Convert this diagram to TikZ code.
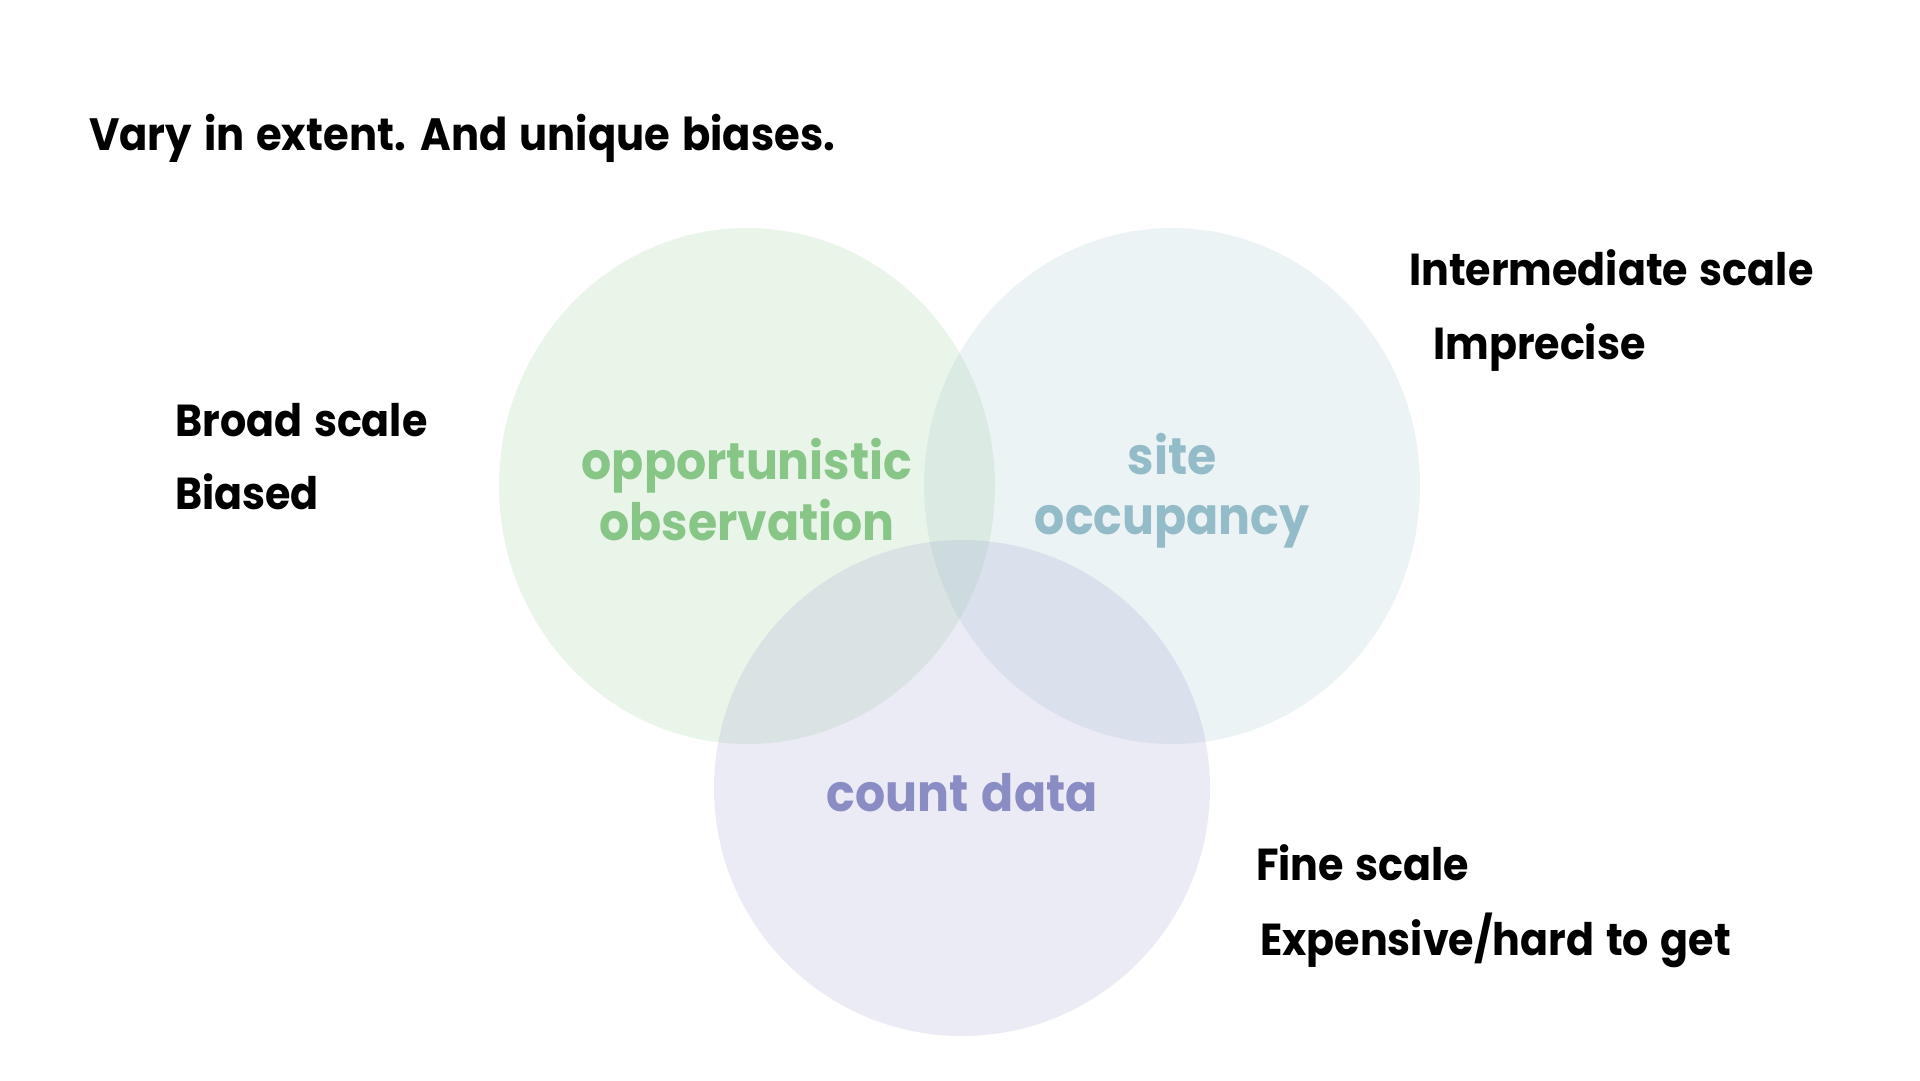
\documentclass[tikz,border=0pt]{standalone}
\usepackage{fontspec}
\setmainfont{Poppins}[FakeStretch=0.92, WordSpace=1.35]
\definecolor{obsgreen}{HTML}{88C688}
\definecolor{siteblue}{HTML}{93BCC8}
\definecolor{cntpurple}{HTML}{8A8CC4}
\begin{document}
\begin{tikzpicture}[x=1pt,y=-1pt,
  every node/.style={inner sep=0pt},
  note/.style={anchor=base west, text=black, font=\fontsize{44.8}{52}\selectfont\bfseries},
  heading/.style={anchor=base west, text=black, font=\fontsize{45.3}{52}\selectfont\bfseries},
  setname/.style={anchor=base, font=\fontsize{51.5}{60}\selectfont\bfseries},
  setdisc/.style={fill opacity=0.17, draw=none}]
\useasboundingbox (0,0) rectangle (1920,1080);
\fill[white] (0,0) rectangle (1920,1080);

% the three data sets
\fill[obsgreen, setdisc] (747,486) ellipse [x radius=248, y radius=258];
\fill[siteblue, setdisc] (1172,486) ellipse [x radius=248, y radius=258];
\fill[cntpurple, setdisc] (962,788) ellipse [x radius=248, y radius=248];

% set labels
\node[setname, text=obsgreen] (opp1) at (747,479) {opportunistic};
\node[setname, text=obsgreen] (opp2) at (747,540) {observation};
\node[setname, text=siteblue] (site1) at (1172,474) {site};
\node[setname, text=siteblue] (site2) at (1172,534) {occupancy};
\node[setname, text=cntpurple] (count) at (962,811) {count data};

% heading and notes
\node[heading] (title) at (89,150) {Vary in extent. And unique biases.};
\node[note] (broad) at (175,436) {Broad scale};
\node[note] (biased) at (175,509) {Biased};
\node[note] (inter) at (1409,285) {Intermediate scale};
\node[note] (impr) at (1433,359) {Imprecise};
\node[note] (fine) at (1256,880) {Fine scale};
\node[note] (exp) at (1260,955) {Expensive/hard to get};
\end{tikzpicture}
\end{document}
